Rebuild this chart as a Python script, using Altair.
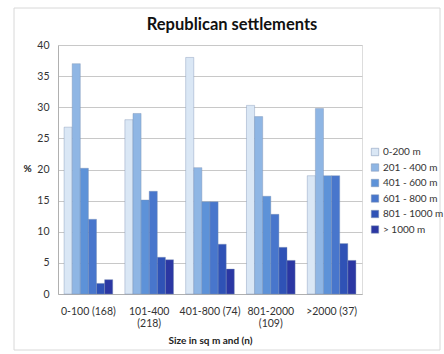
import altair as alt
import pandas as pd

categories = ["0-100 (168)", "101-400|(218)", "401-800 (74)", "801-2000|(109)", ">2000 (37)"]
series = ["0-200 m", "201 - 400 m", "401 - 600 m", "601 - 800 m", "801 - 1000 m", "> 1000 m"]
colors = ["#dae7f5", "#8fb6e4", "#5d92d8", "#4876cc", "#2f52b6", "#2b37a3"]
values = {
    "0-100 (168)":    [26.8, 37.0, 20.2, 12.0, 1.7, 2.3],
    "101-400|(218)":  [28.0, 29.0, 15.1, 16.5, 5.9, 5.5],
    "401-800 (74)":   [38.0, 20.3, 14.8, 14.8, 8.0, 4.0],
    "801-2000|(109)": [30.3, 28.5, 15.7, 12.8, 7.5, 5.4],
    ">2000 (37)":     [19.0, 29.8, 19.0, 19.0, 8.1, 5.4],
}

rows = []
for c in categories:
    for s, v in zip(series, values[c]):
        rows.append({"cat": c, "series": s, "pct": v})
df = pd.DataFrame(rows)

FONT = "Lato"

bars = alt.Chart(df).mark_bar(stroke="#7890b4", strokeWidth=0.4).encode(
    x=alt.X("cat:N", sort=categories,
            scale=alt.Scale(paddingInner=0.2, paddingOuter=0.1),
            axis=alt.Axis(title="Size in sq m and (n)", labelAngle=0,
                          labelExpr="split(datum.label, '|')",
                          labelFontSize=10.5, labelColor="#333333", labelFont=FONT,
                          titleFont=FONT, titleFontSize=10, titleFontWeight="bold",
                          titleColor="#222222", titlePadding=6,
                          ticks=False, domainColor="#b0b0b0", labelPadding=12)),
    xOffset=alt.XOffset("series:N", sort=series),
    y=alt.Y("pct:Q", scale=alt.Scale(domain=[0, 40]),
            axis=alt.Axis(title="%", titleAngle=0, titleX=-31, titleY=128,
                          titleFont=FONT, titleFontSize=10, titleFontWeight="bold",
                          titleColor="#222222",
                          values=[0, 5, 10, 15, 20, 25, 30, 35, 40],
                          labelFont=FONT, labelFontSize=10.5, labelColor="#333333",
                          ticks=False, domainColor="#b0b0b0", labelPadding=9,
                          gridColor="#c8c8c8", gridWidth=1)),
    color=alt.Color("series:N", sort=series,
                    scale=alt.Scale(domain=series, range=colors),
                    legend=alt.Legend(title=None, orient="none", legendX=312, legendY=102,
                                      symbolType="square", symbolSize=55,
                                      symbolStrokeWidth=0.5, symbolStrokeColor="#7a90b0",
                                      labelFont=FONT, labelFontSize=10, labelColor="#333333",
                                      labelOffset=3, rowPadding=5.5)),
)

frame = alt.Chart(pd.DataFrame({"k": [0]})).mark_rect(
    fill=None, stroke="#d8d8d8", strokeWidth=1
).encode(x=alt.value(-44), x2=alt.value(382), y=alt.value(-37), y2=alt.value(305))

chart = alt.layer(frame, bars).properties(
    width=304, height=249,
    title=alt.Title("Republican settlements", font=FONT, fontSize=16.5, fontWeight="bold",
                    color="#111111", anchor="middle", offset=-26, dx=22),
    autosize=alt.AutoSizeParams(type="none"),
    padding={"left": 58, "top": 45, "right": 82, "bottom": 60},
).configure_view(stroke="#b0b0b0", strokeWidth=1).configure(background="white")

chart.save("out.html", embed_options={"renderer": "svg", "actions": False})
